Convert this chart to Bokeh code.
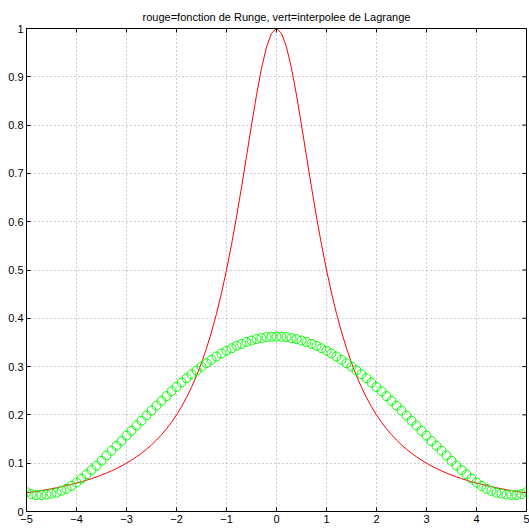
import math
from bokeh.plotting import figure
from bokeh.models import Range1d, LinearAxis, FixedTicker, Title
from bokeh.embed import file_html
from bokeh.resources import INLINE

title_text = "rouge=fonction de Runge, vert=interpolee de Lagrange"

x_values = [-5.0, -4.9, -4.8, -4.7, -4.6, -4.5, -4.4, -4.3, -4.2, -4.1,
            -4.0, -3.9, -3.8, -3.7, -3.6, -3.5, -3.4, -3.3, -3.2, -3.1,
            -3.0, -2.9, -2.8, -2.7, -2.6, -2.5, -2.4, -2.3, -2.2, -2.1,
            -2.0, -1.9, -1.8, -1.7, -1.6, -1.5, -1.4, -1.3, -1.2, -1.1,
            -1.0, -0.9, -0.8, -0.7, -0.6, -0.5, -0.4, -0.3, -0.2, -0.1,
            0.0, 0.1, 0.2, 0.3, 0.4, 0.5, 0.6, 0.7, 0.8, 0.9,
            1.0, 1.1, 1.2, 1.3, 1.4, 1.5, 1.6, 1.7, 1.8, 1.9,
            2.0, 2.1, 2.2, 2.3, 2.4, 2.5, 2.6, 2.7, 2.8, 2.9,
            3.0, 3.1, 3.2, 3.3, 3.4, 3.5, 3.6, 3.7, 3.8, 3.9,
            4.0, 4.1, 4.2, 4.3, 4.4, 4.5, 4.6, 4.7, 4.8, 4.9, 5.0]

runge_values = [0.0385, 0.0400, 0.0416, 0.0433, 0.0451, 0.0471, 0.0491, 0.0513, 0.0536, 0.0561,
                0.0588, 0.0617, 0.0647, 0.0681, 0.0716, 0.0755, 0.0796, 0.0841, 0.0890, 0.0942,
                0.1000, 0.1063, 0.1131, 0.1206, 0.1289, 0.1379, 0.1479, 0.1590, 0.1712, 0.1848,
                0.2000, 0.2169, 0.2358, 0.2571, 0.2809, 0.3077, 0.3378, 0.3717, 0.4098, 0.4525,
                0.5000, 0.5525, 0.6098, 0.6711, 0.7353, 0.8000, 0.8621, 0.9174, 0.9615, 0.9901,
                1.0000,
                0.9901, 0.9615, 0.9174, 0.8621, 0.8000, 0.7353, 0.6711, 0.6098, 0.5525, 0.5000,
                0.4525, 0.4098, 0.3717, 0.3378, 0.3077, 0.2809, 0.2571, 0.2358, 0.2169, 0.2000,
                0.1848, 0.1712, 0.1590, 0.1479, 0.1379, 0.1289, 0.1206, 0.1131, 0.1063, 0.1000,
                0.0942, 0.0890, 0.0841, 0.0796, 0.0755, 0.0716, 0.0681, 0.0647, 0.0617, 0.0588,
                0.0561, 0.0536, 0.0513, 0.0491, 0.0471, 0.0451, 0.0433, 0.0416, 0.0400, 0.0385]

lagrange_values = [0.040, 0.036, 0.034, 0.034, 0.035, 0.037, 0.039, 0.043, 0.047, 0.053,
                   0.060, 0.068, 0.077, 0.086, 0.095, 0.105, 0.116, 0.126, 0.136, 0.146,
                   0.157, 0.167, 0.178, 0.188, 0.199, 0.209, 0.219, 0.229, 0.239, 0.249,
                   0.258, 0.267, 0.276, 0.284, 0.292, 0.300, 0.307, 0.314, 0.321, 0.327,
                   0.333, 0.338, 0.343, 0.347, 0.351, 0.354, 0.357, 0.359, 0.361, 0.362,
                   0.362,
                   0.362, 0.361, 0.359, 0.357, 0.354, 0.351, 0.347, 0.343, 0.338, 0.333,
                   0.327, 0.321, 0.314, 0.307, 0.300, 0.292, 0.284, 0.276, 0.267, 0.258,
                   0.249, 0.239, 0.229, 0.219, 0.209, 0.199, 0.188, 0.178, 0.167, 0.157,
                   0.146, 0.136, 0.126, 0.116, 0.105, 0.095, 0.086, 0.077, 0.068, 0.060,
                   0.053, 0.047, 0.043, 0.039, 0.037, 0.035, 0.034, 0.034, 0.036, 0.040]

x_ticks = [-5, -4, -3, -2, -1, 0, 1, 2, 3, 4, 5]
x_tick_labels = ["\u22125", "\u22124", "\u22123", "\u22122", "\u22121", "0", "1", "2", "3", "4", "5"]
y_ticks = [0, 0.1, 0.2, 0.3, 0.4, 0.5, 0.6, 0.7, 0.8, 0.9, 1]
y_tick_labels = ["0", "0.1", "0.2", "0.3", "0.4", "0.5", "0.6", "0.7", "0.8", "0.9", "1"]

X_MIN, X_MAX = -5, 5
Y_MIN, Y_MAX = 0, 1

FONT = "Liberation Sans"

p = figure(width=529, height=529, output_backend="svg", toolbar_location=None,
           x_range=Range1d(X_MIN, X_MAX), y_range=Range1d(Y_MIN, Y_MAX),
           x_axis_location=None, y_axis_location=None,
           min_border_left=26, min_border_right=3, min_border_top=28, min_border_bottom=18)
p.title = Title(text=title_text, align="center", text_font=FONT,
                text_font_size="11px", text_font_style="normal", text_color="black",
                standoff=11)
p.background_fill_color = "white"
p.border_fill_color = "white"
p.outline_line_color = "black"
p.outline_line_width = 1

def make_axis(ticks, labels):
    ax = LinearAxis(ticker=FixedTicker(ticks=ticks))
    ax.major_label_overrides = {t: l for t, l in zip(ticks, labels)}
    ax.major_tick_in = 4
    ax.major_tick_out = 0
    ax.minor_tick_in = 0
    ax.minor_tick_out = 0
    ax.axis_line_color = "black"
    ax.major_tick_line_color = "black"
    ax.major_label_text_font = FONT
    ax.major_label_text_color = "black"
    ax.major_label_text_font_size = "11px"
    ax.major_label_standoff = 3
    return ax

p.add_layout(make_axis(x_ticks, x_tick_labels), "below")
p.add_layout(make_axis(y_ticks, y_tick_labels), "left")

p.xgrid.ticker = FixedTicker(ticks=x_ticks)
p.ygrid.ticker = FixedTicker(ticks=y_ticks)
for g in (p.xgrid, p.ygrid):
    g.grid_line_color = "#999999"
    g.grid_line_dash = "1 3"
    g.grid_line_width = 1

p.line(x_values, runge_values, line_color="#ff0000", line_width=1)
p.scatter(x_values, lagrange_values, marker="circle", size=9,
          line_color="#00ff00", fill_color=None, line_width=1)

# inward ticks on the top and right edges of the box (half of each dash is clipped)
p.scatter(x_ticks, [Y_MAX] * len(x_ticks), marker="dash", size=8, angle=math.pi / 2,
          line_color="black", line_width=1)
p.scatter([X_MAX] * len(y_ticks), y_ticks, marker="dash", size=8,
          line_color="black", line_width=1)

open("out.html", "w").write(file_html(p, INLINE))
